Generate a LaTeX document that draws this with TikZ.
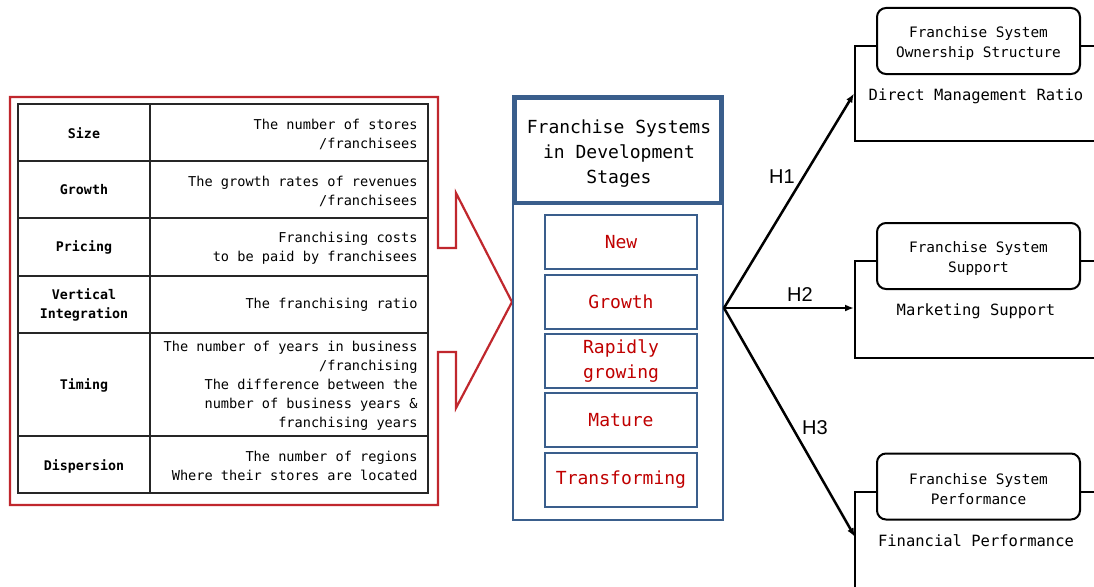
\documentclass[tikz,border=0pt]{standalone}
\usepackage{fontspec}
\setmonofont{DejaVu Sans Mono}
\setsansfont{Liberation Sans}
\usetikzlibrary{arrows.meta}
\definecolor{framered}{HTML}{C0272D}
\definecolor{stageblue}{HTML}{3A5E8C}
\definecolor{stagered}{HTML}{C00000}
\begin{document}
\begin{tikzpicture}[x=1pt,y=-1pt,
  tabline/.style={line width=1.3pt, black!85},
  labelcell/.style={font=\ttfamily\bfseries\fontsize{13.3}{19}\selectfont, align=center},
  desccell/.style={font=\ttfamily\fontsize{13.6}{19}\selectfont, align=right, anchor=east},
  stagebox/.style={draw=stageblue, line width=2pt, minimum width=152pt, minimum height=54pt,
    text=stagered, font=\ttfamily\fontsize{18}{25}\selectfont, align=center, inner sep=0pt},
  outcomebox/.style={draw, line width=2pt, minimum width=260pt, anchor=north west, inner sep=0pt},
  outcometitle/.style={draw, fill=white, rounded corners=9pt, line width=2pt, minimum width=203pt,
    minimum height=66pt, font=\ttfamily\fontsize{14.4}{20}\selectfont, align=center, inner sep=0pt},
  measure/.style={font=\ttfamily\fontsize{15.5}{20}\selectfont},
  hyp/.style={line width=2.5pt, -{Latex[length=9pt,width=7pt]}},
  hyplabel/.style={font=\sffamily\fontsize{20}{24}\selectfont}]
\clip (0,0) rectangle (1094,586);
\fill[white] (0,0) rectangle (1094,586);

% red frame around the table, with the block arrow pointing right
\draw[framered, line width=2.2pt, line join=miter]
  (10,97) -- (438,97) -- (438,248) -- (456,248) -- (456,193) -- (512,302)
  -- (456,408) -- (456,352) -- (438,352) -- (438,505) -- (10,505) -- cycle;

% table grid
\draw[tabline] (18,104) rectangle (428,493);
\draw[tabline] (150,104) -- (150,493);
\foreach \yy in {161,218,276,333,436} \draw[tabline] (18,\yy) -- (428,\yy);

% table contents
\node[labelcell] (l1) at (84,133) {Size};
\node[labelcell] (l2) at (84,190) {Growth};
\node[labelcell] (l3) at (84,247) {Pricing};
\node[labelcell] (l4) at (84,305) {Vertical\\Integration};
\node[labelcell] (l5) at (84,385) {Timing};
\node[labelcell] (l6) at (84,466) {Dispersion};

\node[desccell] (d1) at (421,134) {The number of stores\\/franchisees};
\node[desccell] (d2) at (421,191) {The growth rates of revenues\\/franchisees};
\node[desccell] (d3) at (421,248) {Franchising costs\\to be paid by franchisees};
\node[desccell] (d4) at (421,305) {The franchising ratio};
\node[desccell] (d5) at (421,386) {The number of years in business\\/franchising\\The difference between the\\number of business years \&\\franchising years};
\node[desccell] (d6) at (421,466) {The number of regions\\Where their stores are located};

% development stages column
\node[draw=stageblue, line width=2pt, minimum width=210pt, minimum height=424pt, inner sep=0pt] (stages) at (618,308) {};
\node[draw=stageblue, fill=white, line width=4.5pt, minimum width=206pt, minimum height=105pt, inner sep=0pt] (title) at (618,150.5) {};
\node[font=\ttfamily\fontsize{18}{25}\selectfont, align=center] (titletext) at (619,153.5)
  {Franchise Systems\\in Development\\Stages};
\node[stagebox] (snew) at (621,242) {New};
\node[stagebox] (sgrowth) at (621,301.5) {Growth};
\node[stagebox] (srapid) at (621,361) {Rapidly\\growing};
\node[stagebox] (smature) at (621,420) {Mature};
\node[stagebox] (stransf) at (621,480) {Transforming};

% outcome variables
\node[outcomebox, minimum height=95pt] (own) at (854,45) {};
\node[outcometitle] (ownt) at (978.5,41) {};
\node[font=\ttfamily\fontsize{14.4}{20}\selectfont, align=center] at (978.5,43.5) {Franchise System\\Ownership Structure};
\node[measure] (ownm) at (976,96) {Direct Management Ratio};

\node[outcomebox, minimum height=97pt] (sup) at (854,260) {};
\node[outcometitle] (supt) at (978.5,256) {};
\node[font=\ttfamily\fontsize{14.4}{20}\selectfont, align=center] at (978.5,259) {Franchise System\\Support};
\node[measure] (supm) at (976,311) {Marketing Support};

\node[outcomebox, minimum height=100pt] (perf) at (854,491) {};
\node[outcometitle] (perft) at (978.5,486.5) {};
\node[font=\ttfamily\fontsize{14.4}{20}\selectfont, align=center] at (978.5,489.5) {Franchise System\\Performance};
\node[measure] (perfm) at (976,541) {Financial Performance};
\coordinate (perfin) at (855,537);

% hypotheses
\coordinate (src) at (stages.east);
\draw[hyp] (src) -- (own.west);
\draw[hyp] (src) -- (src -| sup.west);
\draw[hyp] (src) -- (perfin);
\node[hyplabel] (h1) at (782,177) {H1};
\node[hyplabel] (h2) at (800,295) {H2};
\node[hyplabel] (h3) at (815,428) {H3};
\end{tikzpicture}
\end{document}
